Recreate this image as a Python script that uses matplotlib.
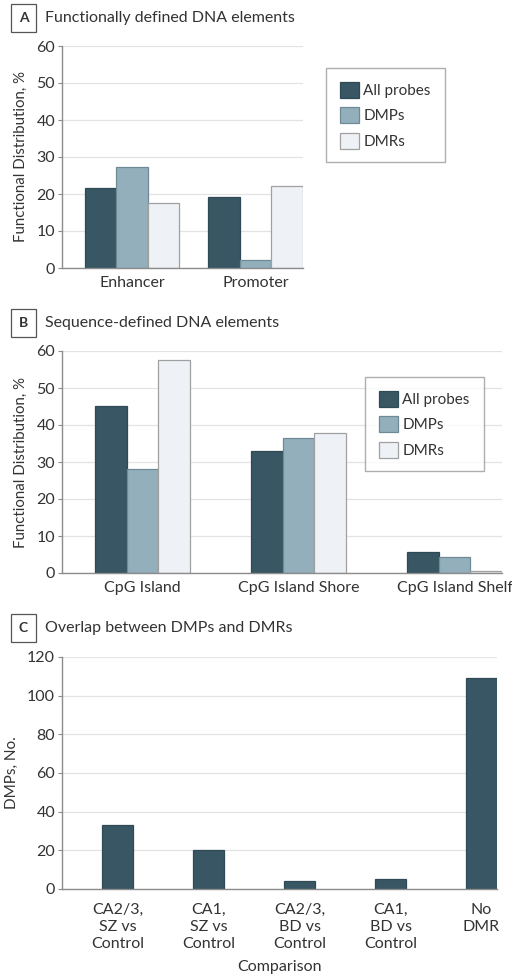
import matplotlib
matplotlib.use("Agg")
import matplotlib.pyplot as plt
from matplotlib.patches import Patch
import numpy as np

plt.rcParams['font.family'] = ['Lato', 'DejaVu Sans']

# panel A data
func_cats = ['Enhancer', 'Promoter']
func_all = [21.5, 19.3]
func_dmp = [27.3, 2.1]
func_dmr = [17.6, 22.1]

# panel B data
seq_cats = ['CpG Island', 'CpG Island Shore', 'CpG Island Shelf']
seq_all = [45.2, 33.0, 5.7]
seq_dmp = [28.2, 36.5, 4.4]
seq_dmr = [57.6, 37.8, 0.6]

# panel C data
comp_cats = ['CA2/3,\nSZ vs\nControl', 'CA1,\nSZ vs\nControl', 'CA2/3,\nBD vs\nControl',
             'CA1,\nBD vs\nControl', 'No\nDMR']
comp_dmps = [33, 20, 4, 5, 109]

series_names = ['All probes', 'DMPs', 'DMRs']
dark = '#385663'
mid = '#93afbc'
light = '#eef2f6'
colors = [dark, mid, light]
edges = ['#2f4a55', '#6e8a97', '#a0a0a0']
txt = '#333333'
W, H = 512, 977


def fig_rect(x0, x1, ytop, ybot):
    return [x0 / W, 1 - ybot / H, (x1 - x0) / W, (ybot - ytop) / H]


def style_ax(ax, ymax, step):
    ax.set_ylim(0, ymax)
    ax.set_yticks(np.arange(0, ymax + 1, step))
    for s in ['top', 'right']:
        ax.spines[s].set_visible(False)
    for s in ['left', 'bottom']:
        ax.spines[s].set_color('#8c8c8c')
        ax.spines[s].set_linewidth(1.0)
    ax.yaxis.grid(True, color='#e3e3e3', linewidth=0.9)
    ax.set_axisbelow(True)
    ax.tick_params(axis='y', length=3, color='#8c8c8c', labelsize=11.5, labelcolor=txt, pad=2)
    ax.tick_params(axis='x', length=0, labelsize=11.5, labelcolor=txt, pad=6)


def panel_title(letter, title, ypix):
    y = 1 - ypix / H
    fig.text(23.5 / W, y, letter, fontsize=10, fontweight='bold', color=txt,
             ha='center', va='center',
             bbox=dict(boxstyle='square,pad=0.55', fc='white', ec='#555555', lw=0.9))
    fig.text(45 / W, y, title, fontsize=11.5, color=txt, ha='left', va='center')


def grouped(ax, x, vals_list, width):
    for i, vals in enumerate(vals_list):
        ax.bar(x + (i - 1) * width, vals, width, color=colors[i], edgecolor=edges[i],
               linewidth=0.9, label=series_names[i])


def add_legend(x0, ytop):
    handles = [Patch(facecolor=colors[i], edgecolor=edges[i], linewidth=0.9)
               for i in range(3)]
    leg = fig.legend(handles, series_names, loc='upper left',
                     bbox_to_anchor=(x0 / W, 1 - ytop / H), fontsize=11,
                     frameon=True, fancybox=False, edgecolor='#9a9a9a',
                     handlelength=1.25, handleheight=1.25, labelspacing=0.6,
                     borderpad=0.9, handletextpad=0.3, borderaxespad=0)
    leg.get_frame().set_linewidth(1.0)
    for t in leg.get_texts():
        t.set_color(txt)


fig = plt.figure(figsize=(W / 100, H / 100), dpi=100)

# A
axA = fig.add_axes(fig_rect(62, 303, 46, 268))
xa = np.arange(len(func_cats))
grouped(axA, xa, [func_all, func_dmp, func_dmr], 0.255)
axA.set_xticks(xa)
axA.set_xticklabels(func_cats)
axA.set_xlim(-0.567, 1.385)
style_ax(axA, 60, 10)
axA.set_ylabel('Functional Distribution, %', fontsize=10.8, color=txt, labelpad=6)
panel_title('A', 'Functionally defined DNA elements', 18)
add_legend(326, 68)

# B
axB = fig.add_axes(fig_rect(62, 502, 351, 573))
xb = np.arange(len(seq_cats))
grouped(axB, xb, [seq_all, seq_dmp, seq_dmr], 0.202)
axB.set_xticks(xb)
axB.set_xticklabels(seq_cats)
axB.set_xlim(-0.516, 2.304)
style_ax(axB, 60, 10)
axB.set_ylabel('Functional Distribution, %', fontsize=10.8, color=txt, labelpad=6)
panel_title('B', 'Sequence-defined DNA elements', 323)
add_legend(365, 377)

# C
axC = fig.add_axes(fig_rect(62, 497, 657, 889))
xc = np.arange(len(comp_cats))
axC.bar(xc, comp_dmps, 0.34, color=dark, edgecolor=edges[0], linewidth=0.9)
axC.set_xticks(xc)
axC.set_xticklabels(comp_cats, linespacing=1.3)
axC.tick_params(axis='x', pad=10)
axC.set_xlim(-0.61, 4.17)
style_ax(axC, 120, 20)
axC.tick_params(axis='x', pad=10)
axC.set_ylabel('DMPs, No.', fontsize=11, color=txt, labelpad=6)
axC.set_xlabel('Comparison', fontsize=11.5, color=txt, labelpad=6)
panel_title('C', 'Overlap between DMPs and DMRs', 628)

fig.savefig('out.png', dpi=100)
